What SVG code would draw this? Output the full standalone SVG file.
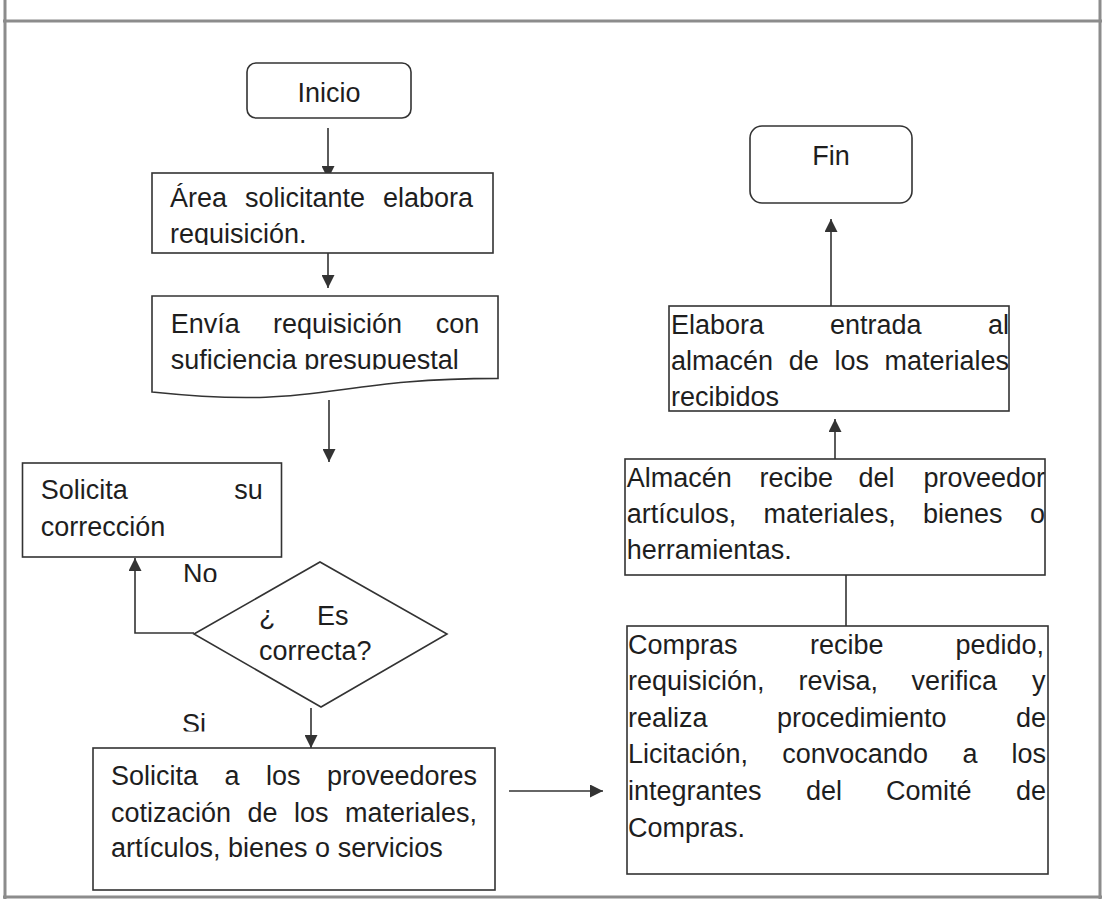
<svg xmlns="http://www.w3.org/2000/svg" width="1104" height="905" viewBox="0 0 1104 905">
<style>
.box{fill:#fff;stroke:#333;stroke-width:1.6}
.frame{stroke:#8c8c8c;stroke-width:3;fill:none}
.t{font-family:"Liberation Sans",Arial,sans-serif;font-size:27px;fill:#1e1e1e}
.c{stroke:#333;stroke-width:1.6;fill:none}
.ar{marker-end:url(#ah)}
</style>
<defs>
<marker id="ah" markerUnits="userSpaceOnUse" markerWidth="13" markerHeight="13" refX="13" refY="6.5" orient="auto">
<path d="M0,0 L13,6.5 L0,13 Z" fill="#333"/>
</marker>
<clipPath id="clipArea"><rect x="150" y="170" width="345" height="75"/></clipPath>
<clipPath id="clipEnvia"><rect x="150" y="295" width="350" height="74.5"/></clipPath>
<clipPath id="clipNo"><rect x="170" y="550" width="60" height="32"/></clipPath>
<clipPath id="clipSi"><rect x="170" y="700" width="60" height="31.5"/></clipPath>
<clipPath id="clipAlm"><rect x="625" y="459" width="420" height="116"/></clipPath>
<clipPath id="clipElab"><rect x="669" y="306" width="340" height="105"/></clipPath>
</defs>

<g id="frame">
<line class="frame" x1="5" y1="0" x2="5" y2="899"/>
<line class="frame" x1="1100" y1="0" x2="1100" y2="899"/>
<line class="frame" x1="3" y1="21" x2="1102" y2="21"/>
<line class="frame" x1="3" y1="897" x2="1102" y2="897"/>
</g>

<g id="connectors">
<path class="c ar" d="M328,128 V179"/>
<path class="c ar" d="M328,247 V288"/>
<path class="c ar" d="M329,400 V462"/>
<path class="c ar" d="M194,633 H135 V558"/>
<path class="c ar" d="M311,708 V748"/>
<path class="c ar" d="M509,791 H603"/>
<path class="c" d="M846,626 V575"/>
<path class="c ar" d="M835,459 V419"/>
<path class="c ar" d="M831,306 V219"/>
</g>

<g id="inicio">
<rect class="box" x="247" y="63" width="164" height="55" rx="9"/>
<text class="t" x="329" y="102" text-anchor="middle">Inicio</text>
</g>

<g id="area">
<rect class="box" x="152" y="173" width="341" height="80"/>
<g clip-path="url(#clipArea)">
<text class="t" x="170" y="207">Área</text>
<text class="t" x="245" y="207">solicitante</text>
<text class="t" x="473" y="207" text-anchor="end">elabora</text>
<text class="t" x="170" y="243">requisición.</text>
</g>
</g>

<g id="envia">
<path class="box" d="M152,296 H498 V378.4 C325,378.4 325,410 152,392 Z"/>
<g clip-path="url(#clipEnvia)">
<text class="t" x="170.7" y="333">Envía</text>
<text class="t" x="273" y="333">requisición</text>
<text class="t" x="479.3" y="333" text-anchor="end">con</text>
<text class="t" x="170.7" y="368.5">suficiencia presupuestal</text>
</g>
</g>

<g id="solicita-correccion">
<rect class="box" x="22.5" y="463" width="259" height="94"/>
<text class="t" x="40.7" y="499">Solicita</text>
<text class="t" x="262.7" y="499" text-anchor="end">su</text>
<text class="t" x="40.7" y="535.5">corrección</text>
</g>

<g id="label-no">
<text class="t" x="183" y="583" clip-path="url(#clipNo)">No</text>
</g>

<g id="decision">
<path class="box" d="M194,634 L320,562 L447,634 L321,707 Z"/>
<text class="t" x="259" y="625">¿</text>
<text class="t" x="317" y="625">Es</text>
<text class="t" x="259" y="660">correcta?</text>
</g>

<g id="label-si">
<text class="t" x="182" y="733" clip-path="url(#clipSi)">Si</text>
</g>

<g id="solicita-proveedores">
<rect class="box" x="93" y="748" width="402" height="142"/>
<text class="t" x="111" y="785">Solicita</text>
<text class="t" x="224.5" y="785">a</text>
<text class="t" x="266" y="785">los</text>
<text class="t" x="477" y="785" text-anchor="end">proveedores</text>
<text class="t" x="111" y="821.5">cotización</text>
<text class="t" x="247.5" y="821.5">de</text>
<text class="t" x="294" y="821.5">los</text>
<text class="t" x="477" y="821.5" text-anchor="end">materiales,</text>
<text class="t" x="111" y="857">artículos, bienes o servicios</text>
</g>

<g id="compras">
<rect class="box" x="627" y="626" width="421" height="248"/>
<text class="t" x="628" y="654">Compras</text>
<text class="t" x="810" y="654">recibe</text>
<text class="t" x="1044" y="654" text-anchor="end">pedido,</text>
<text class="t" x="628" y="690">requisición,</text>
<text class="t" x="798.5" y="690">revisa,</text>
<text class="t" x="911.5" y="690">verifica</text>
<text class="t" x="1045.5" y="690" text-anchor="end">y</text>
<text class="t" x="628" y="726.5">realiza</text>
<text class="t" x="777" y="726.5">procedimiento</text>
<text class="t" x="1046" y="726.5" text-anchor="end">de</text>
<text class="t" x="628" y="763">Licitación,</text>
<text class="t" x="782.3" y="763">convocando</text>
<text class="t" x="962.5" y="763">a</text>
<text class="t" x="1046" y="763" text-anchor="end">los</text>
<text class="t" x="628" y="800">integrantes</text>
<text class="t" x="806" y="800">del</text>
<text class="t" x="886" y="800">Comité</text>
<text class="t" x="1046" y="800" text-anchor="end">de</text>
<text class="t" x="628" y="836.5">Compras.</text>
</g>

<g id="almacen">
<rect class="box" x="625" y="459" width="420" height="116"/>
<g clip-path="url(#clipAlm)">
<text class="t" x="626.7" y="487">Almacén</text>
<text class="t" x="759.5" y="487">recibe</text>
<text class="t" x="858.5" y="487">del</text>
<text class="t" x="1045" y="487" text-anchor="end">proveedor</text>
<text class="t" x="626.7" y="522.5">artículos,</text>
<text class="t" x="763.6" y="522.5">materiales,</text>
<text class="t" x="923" y="522.5">bienes</text>
<text class="t" x="1045" y="522.5" text-anchor="end">o</text>
<text class="t" x="626.7" y="559">herramientas.</text>
</g>
</g>

<g id="elabora">
<rect class="box" x="669" y="306" width="340" height="105"/>
<g clip-path="url(#clipElab)">
<text class="t" x="671" y="333.5">Elabora</text>
<text class="t" x="830" y="333.5">entrada</text>
<text class="t" x="1009" y="333.5" text-anchor="end">al</text>
<text class="t" x="671" y="370">almacén</text>
<text class="t" x="788.7" y="370">de</text>
<text class="t" x="834.4" y="370">los</text>
<text class="t" x="1009" y="370" text-anchor="end">materiales</text>
<text class="t" x="671" y="406">recibidos</text>
</g>
</g>

<g id="fin">
<rect class="box" x="750" y="126" width="162" height="77" rx="12"/>
<text class="t" x="831" y="165" text-anchor="middle">Fin</text>
</g>
</svg>
